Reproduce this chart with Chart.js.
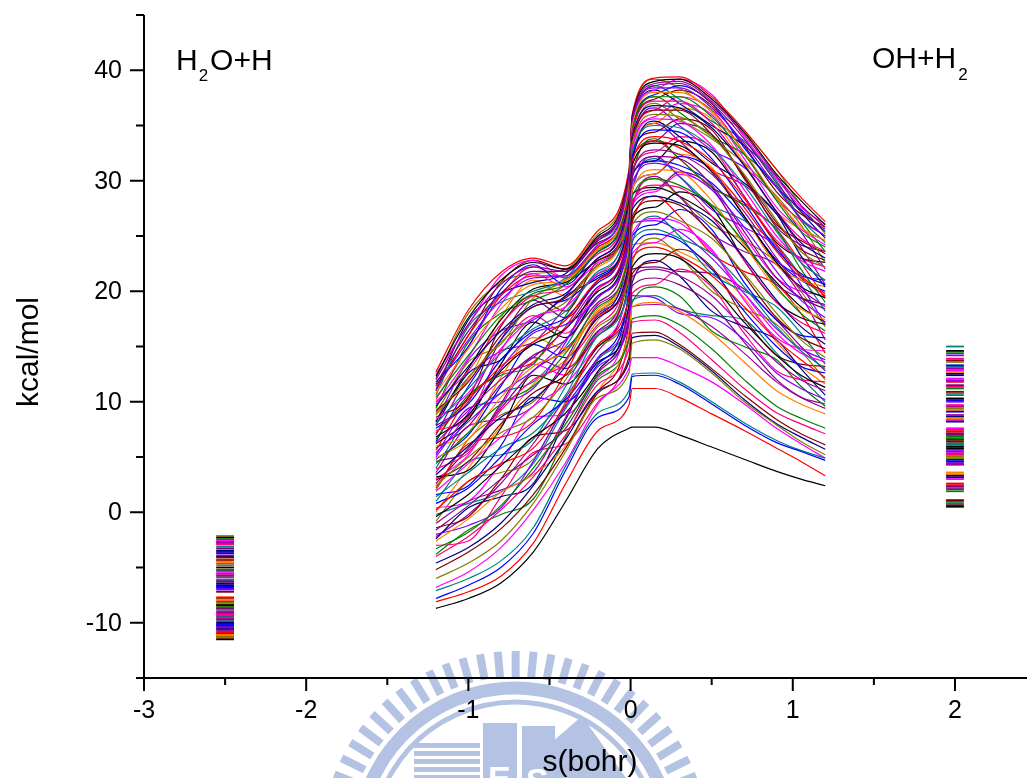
<!DOCTYPE html>
<html>
<head>
<meta charset="utf-8">
<script src="https://cdn.jsdelivr.net/npm/chart.js@4.4.0/dist/chart.umd.min.js"></script>
<style>
  html, body { margin: 0; padding: 0; background: #fff; overflow: hidden; }
  #wrap { width: 1027px; height: 778px; position: relative; }
</style>
</head>
<body>
<div id="wrap"><canvas id="pes"></canvas></div>
<script>
// reaction coordinate s (bohr) where each curve was sampled
const sPoints = [-1.2, -1.0, -0.8, -0.6, -0.4, -0.2, -0.01, 0.01, 0.15, 0.3, 0.5, 0.7, 0.9, 1.05, 1.2];

// energy curves (kcal/mol), roughly bottom one first
const curves = [
  [-8.7, -7.8, -6.4, -3.6, 1.0, 5.8, 7.6, 7.7, 7.7, 7.0, 5.9, 4.8, 3.7, 3.0, 2.4],
  [-8.1, -7.2, -5.8, -2.8, 2.6, 7.4, 9.7, 11.2, 11.2, 10.4, 8.9, 7.4, 5.8, 4.6, 3.3],
  [-7.8, -6.6, -5.0, -1.9, 3.8, 8.6, 10.4, 12.3, 12.4, 11.6, 9.8, 7.9, 6.3, 5.5, 4.7],
  [-7.1, -6.0, -4.4, -1.4, 4.2, 9.0, 11.0, 12.5, 12.6, 11.8, 10.0, 8.1, 6.5, 5.6, 4.9],
  [-6.8, -5.4, -3.2, 0.2, 4.5, 9.8, 13.0, 14.0, 14.0, 13.2, 11.8, 9.8, 7.6, 6.2, 4.9],
  [-6.0, -4.6, -2.6, 0.8, 5.5, 10.4, 12.6, 15.3, 15.6, 14.8, 12.6, 10.0, 7.9, 6.4, 5.2],
  [-5.2, -3.6, -1.5, 1.6, 5.8, 10.8, 14.0, 16.2, 16.3, 15.2, 13.0, 10.6, 8.4, 7.1, 6.1],
  [-4.6, -3.2, -1.0, 2.4, 6.6, 11.0, 13.6, 15.8, 16.0, 15.0, 12.8, 10.2, 8.0, 6.8, 5.7],
  [-4.0, -2.2, 0.2, 3.2, 7.0, 11.6, 14.8, 17.2, 17.4, 16.3, 13.8, 11.2, 9.0, 8.0, 7.1],
  [-3.3, -1.8, 0.6, 4.0, 8.0, 12.4, 15.6, 17.5, 17.8, 17.0, 14.8, 12.0, 9.6, 8.5, 7.6],
  [-2.6, -0.6, 1.8, 3.4, 6.0, 11.0, 16.4, 18.6, 19.0, 18.2, 16.2, 13.6, 11.0, 9.8, 8.9],
  [-2.0, -1.2, 0.4, 4.6, 9.6, 13.2, 17.0, 19.6, 19.4, 18.0, 17.6, 15.6, 12.6, 11.2, 10.2],
  [-1.6, 0.6, 3.0, 5.2, 7.6, 12.6, 17.6, 20.5, 21.2, 20.6, 18.8, 15.4, 12.0, 10.4, 9.4],
  [-1.0, 1.0, 2.0, 3.6, 8.6, 14.0, 18.2, 21.3, 22.0, 21.4, 19.6, 16.6, 13.6, 12.0, 11.0],
  [-0.4, 1.6, 4.2, 6.8, 9.0, 12.8, 18.8, 22.2, 23.4, 23.0, 20.6, 17.2, 14.2, 12.4, 11.3],
  [0.2, 2.8, 4.4, 5.8, 9.8, 15.2, 19.4, 23.0, 24.0, 23.2, 21.4, 18.6, 15.6, 13.8, 12.2],
  [0.8, 2.2, 5.0, 8.0, 10.2, 14.0, 19.8, 23.8, 25.2, 24.6, 22.0, 18.2, 15.0, 13.2, 12.6],
  [1.4, 3.6, 5.8, 7.2, 10.6, 16.0, 20.4, 24.6, 25.6, 24.8, 23.4, 20.4, 16.8, 14.6, 13.0],
  [1.9, 4.4, 6.8, 9.6, 11.6, 15.2, 20.8, 25.2, 26.6, 26.2, 23.6, 19.8, 16.2, 14.4, 13.6],
  [2.4, 5.0, 7.2, 8.6, 12.0, 16.8, 21.4, 26.0, 27.2, 26.4, 24.8, 21.6, 18.0, 15.6, 14.0],
  [2.9, 4.6, 8.0, 10.8, 12.4, 16.0, 21.8, 26.8, 28.2, 27.8, 25.2, 21.4, 17.6, 15.8, 14.8],
  [3.4, 6.0, 8.6, 10.2, 13.2, 17.6, 22.4, 27.4, 28.6, 28.0, 26.4, 23.0, 19.2, 16.8, 15.2],
  [3.9, 5.4, 9.2, 12.0, 13.4, 17.0, 22.8, 28.0, 29.6, 29.4, 26.8, 22.8, 19.0, 17.2, 16.2],
  [4.4, 7.2, 9.8, 11.4, 14.4, 18.6, 23.4, 28.6, 30.2, 29.6, 27.8, 24.4, 20.4, 18.0, 16.4],
  [4.9, 6.6, 10.4, 13.2, 14.6, 18.2, 23.8, 29.2, 31.0, 30.8, 28.2, 24.2, 20.2, 18.4, 17.4],
  [5.4, 8.2, 10.8, 12.8, 15.6, 19.6, 24.2, 29.8, 31.6, 31.0, 29.2, 25.8, 21.8, 19.2, 17.6],
  [5.8, 7.8, 11.6, 14.2, 15.6, 19.0, 24.6, 30.4, 32.2, 32.0, 29.6, 25.4, 21.2, 19.4, 18.4],
  [6.3, 9.2, 12.0, 14.0, 16.6, 20.4, 25.0, 30.8, 32.8, 32.4, 30.6, 27.2, 23.0, 20.2, 18.6],
  [6.8, 8.8, 12.8, 15.2, 16.6, 20.0, 25.4, 31.4, 33.4, 33.2, 30.8, 26.8, 22.6, 20.4, 19.4],
  [7.2, 10.2, 13.2, 15.4, 17.4, 21.0, 25.8, 31.8, 34.0, 33.6, 31.8, 28.4, 24.2, 21.4, 19.8],
  [7.6, 9.8, 13.8, 16.4, 17.6, 20.8, 26.2, 32.2, 34.6, 34.4, 32.0, 28.0, 23.8, 21.6, 20.6],
  [8.0, 11.2, 14.4, 16.6, 18.2, 21.8, 26.6, 32.6, 35.0, 34.8, 33.0, 29.6, 25.4, 22.6, 21.0],
  [8.4, 10.8, 14.8, 17.6, 18.6, 21.6, 27.0, 33.0, 35.6, 35.4, 33.2, 29.2, 25.0, 22.8, 21.8],
  [8.8, 12.2, 15.4, 17.6, 19.0, 22.4, 27.4, 33.4, 36.0, 35.8, 34.0, 30.6, 26.4, 23.6, 22.2],
  [9.2, 11.8, 16.0, 18.6, 19.4, 22.4, 27.8, 33.8, 36.4, 36.4, 34.2, 30.4, 26.2, 23.8, 22.8],
  [9.6, 13.2, 16.4, 18.8, 19.8, 23.0, 28.2, 34.0, 36.8, 36.6, 34.8, 31.4, 27.2, 24.4, 23.0],
  [10.0, 12.8, 17.0, 19.6, 20.2, 23.0, 28.6, 34.4, 37.2, 37.2, 35.2, 31.4, 27.2, 24.8, 23.6],
  [10.4, 14.2, 17.8, 19.8, 20.6, 23.6, 29.0, 34.6, 37.6, 37.6, 35.8, 32.4, 28.2, 25.4, 24.0],
  [10.8, 14.8, 18.4, 20.6, 21.0, 23.8, 29.4, 35.0, 38.0, 38.0, 36.2, 32.6, 28.4, 25.8, 24.6],
  [11.2, 15.6, 19.2, 21.2, 21.4, 24.2, 29.8, 35.2, 38.4, 38.4, 36.6, 33.4, 29.4, 26.6, 25.0],
  [11.6, 16.4, 19.8, 21.8, 21.8, 24.6, 30.2, 35.4, 38.6, 38.8, 37.0, 33.8, 29.8, 27.2, 25.6],
  [12.0, 17.0, 20.6, 22.2, 21.8, 24.8, 30.4, 35.6, 38.8, 39.0, 37.2, 34.2, 30.4, 27.8, 25.8],
  [12.3, 17.6, 21.0, 22.6, 22.0, 25.0, 30.6, 35.8, 39.0, 39.2, 37.4, 34.4, 30.6, 28.2, 26.0],
  [12.7, 18.3, 21.7, 23.0, 22.3, 25.5, 31.0, 36.0, 39.3, 39.4, 37.6, 34.6, 31.0, 28.5, 26.3],
  [11.8, 15.0, 20.2, 22.4, 20.6, 23.6, 28.8, 34.8, 37.8, 38.6, 37.0, 33.0, 29.4, 27.4, 25.4],
  [10.6, 16.8, 19.0, 20.0, 21.2, 24.6, 29.2, 34.2, 38.6, 37.4, 35.4, 33.6, 30.0, 26.6, 24.4],
  [9.8, 14.0, 18.8, 21.6, 20.4, 22.6, 27.6, 33.2, 35.8, 37.0, 36.0, 32.0, 27.6, 25.6, 24.2],
  [9.0, 13.6, 15.2, 19.4, 21.0, 23.8, 28.0, 33.6, 37.0, 35.6, 33.8, 31.6, 28.6, 26.0, 22.6],
  [8.6, 10.4, 16.8, 19.6, 18.2, 22.8, 27.2, 32.8, 34.4, 35.6, 34.6, 30.2, 26.0, 24.6, 23.4],
  [7.9, 12.6, 13.8, 17.0, 19.6, 21.2, 26.4, 31.6, 35.4, 34.0, 31.6, 29.8, 27.0, 23.2, 20.4],
  [7.4, 8.6, 14.6, 17.8, 16.2, 20.2, 25.6, 31.0, 32.6, 34.0, 33.0, 28.6, 24.6, 23.0, 22.2],
  [6.6, 10.6, 12.4, 13.4, 17.8, 21.6, 25.2, 30.2, 33.8, 32.0, 29.4, 27.8, 25.6, 22.0, 19.0],
  [6.0, 7.2, 12.2, 15.8, 14.8, 18.4, 24.0, 29.4, 30.6, 32.4, 31.2, 26.8, 22.4, 21.0, 20.4],
  [5.2, 9.4, 10.0, 11.2, 15.4, 20.4, 24.4, 29.0, 32.2, 30.4, 27.4, 25.8, 24.0, 20.6, 17.0],
  [4.6, 5.6, 9.8, 14.0, 13.0, 16.4, 22.6, 28.2, 29.2, 30.8, 29.4, 24.6, 20.6, 19.4, 18.8],
  [3.6, 7.8, 8.4, 9.6, 13.8, 18.8, 23.0, 27.6, 30.4, 28.6, 25.2, 23.6, 22.4, 19.6, 15.6],
  [3.2, 3.8, 7.6, 12.4, 11.6, 15.0, 21.2, 26.6, 27.6, 29.0, 27.6, 22.8, 19.0, 17.6, 17.0],
  [2.2, 6.2, 6.8, 8.2, 12.6, 17.8, 21.6, 26.2, 28.6, 26.8, 23.4, 21.8, 20.6, 18.0, 14.4],
  [1.6, 2.4, 6.0, 10.4, 10.0, 13.4, 19.8, 25.0, 26.0, 27.4, 25.6, 20.8, 17.4, 16.0, 15.8],
  [1.0, 4.6, 5.2, 6.6, 11.4, 16.4, 20.0, 24.4, 26.8, 25.0, 21.6, 20.0, 18.6, 16.2, 13.4],
  [0.4, 1.0, 4.4, 8.6, 8.8, 12.2, 18.4, 23.4, 24.4, 25.6, 23.8, 19.2, 15.8, 14.8, 14.6],
  [-0.8, 2.8, 3.6, 4.8, 10.0, 15.0, 18.6, 22.6, 24.8, 23.2, 20.0, 18.4, 17.0, 14.6, 12.0],
  [-1.4, -0.4, 3.0, 6.8, 7.4, 11.0, 17.0, 21.6, 22.6, 23.8, 22.2, 17.6, 14.2, 13.4, 13.2],
  [-2.4, 0.4, 1.4, 2.6, 8.4, 13.6, 17.2, 20.8, 22.8, 21.4, 18.2, 16.8, 15.6, 13.0, 10.6],
  [-3.0, -2.6, 1.4, 5.4, 6.2, 10.0, 15.8, 19.8, 20.6, 22.0, 20.4, 16.2, 12.8, 12.0, 11.8],
  [-3.8, -1.6, -0.2, 1.2, 6.8, 12.0, 15.8, 19.0, 20.4, 19.6, 16.4, 15.0, 13.8, 11.4, 9.6],
  [0.0, 4.0, 7.8, 11.6, 13.8, 17.4, 22.0, 24.2, 24.4, 23.6, 22.0, 19.4, 15.4, 13.2, 11.6],
  [5.0, 9.0, 13.0, 16.2, 17.0, 19.4, 24.0, 26.2, 26.4, 25.4, 23.0, 19.8, 16.6, 14.8, 13.8],
  [2.6, 5.8, 9.4, 12.8, 14.8, 18.0, 20.6, 22.0, 22.2, 21.8, 21.6, 20.2, 17.4, 15.0, 12.8],
  [-2.2, -0.2, 2.6, 6.2, 10.4, 14.6, 17.8, 18.6, 18.8, 18.4, 16.8, 14.4, 11.8, 10.4, 9.8],
  [8.2, 13.0, 17.4, 20.2, 20.8, 22.8, 26.0, 28.8, 29.4, 28.6, 26.8, 24.0, 20.8, 18.6, 17.2],
  [11.0, 16.0, 19.6, 21.4, 21.4, 24.0, 28.4, 32.0, 33.6, 33.0, 31.0, 27.6, 23.6, 21.2, 19.6],
  [6.4, 11.4, 15.6, 18.6, 19.2, 21.4, 25.8, 30.6, 31.8, 31.4, 29.8, 26.6, 22.8, 21.0, 20.0],
  [-0.2, 0.8, 1.8, 4.4, 9.4, 13.8, 17.4, 19.2, 19.6, 18.4, 17.8, 17.4, 14.4, 12.2, 10.0],
  [12.5, 17.0, 21.4, 22.8, 21.2, 24.2, 29.6, 35.4, 38.2, 39.2, 37.8, 34.0, 30.2, 27.6, 26.1],
  [12.1, 18.0, 20.8, 21.6, 22.0, 25.2, 30.8, 35.8, 39.2, 38.4, 36.4, 34.4, 31.0, 27.8, 25.2],
  [11.4, 16.0, 20.8, 22.8, 22.0, 24.4, 29.0, 34.6, 37.4, 38.2, 36.8, 33.2, 29.0, 27.0, 25.8],
  [11.0, 17.4, 19.8, 20.8, 21.6, 24.8, 29.6, 34.8, 38.2, 37.0, 35.0, 33.2, 30.4, 27.2, 24.8],
  [10.2, 15.0, 19.6, 22.2, 21.2, 23.4, 28.4, 33.8, 36.4, 37.6, 36.4, 32.6, 28.4, 26.4, 25.0],
  [9.4, 15.4, 18.0, 19.2, 20.6, 24.0, 28.8, 34.2, 37.6, 36.2, 34.0, 32.4, 29.6, 26.4, 23.6],
  [9.0, 12.0, 17.6, 21.0, 19.6, 22.2, 27.4, 33.0, 35.2, 36.6, 35.6, 31.6, 27.2, 25.6, 24.6],
  [8.2, 13.8, 16.4, 17.4, 19.6, 23.0, 27.8, 33.2, 36.6, 35.0, 32.8, 31.2, 28.4, 25.4, 22.0],
  [7.8, 10.0, 15.6, 19.2, 17.6, 21.0, 26.4, 32.0, 33.6, 35.2, 34.2, 30.4, 25.8, 24.2, 23.6],
  [7.0, 12.2, 14.6, 15.4, 18.6, 22.4, 26.8, 32.0, 35.2, 33.6, 31.0, 29.6, 27.0, 24.0, 20.6],
  [6.2, 8.4, 13.4, 17.2, 15.8, 19.6, 25.0, 30.6, 31.8, 33.6, 32.6, 28.6, 24.4, 23.0, 22.6],
  [5.6, 10.4, 12.6, 13.6, 16.8, 21.0, 25.6, 30.6, 33.6, 32.0, 29.4, 28.0, 25.6, 22.6, 19.4],
  [4.8, 7.0, 11.4, 15.2, 14.0, 17.8, 23.6, 29.4, 30.6, 32.2, 31.0, 26.8, 22.8, 21.4, 21.0],
  [4.0, 8.6, 10.8, 11.8, 15.0, 19.6, 24.2, 29.2, 32.0, 30.4, 27.8, 26.4, 24.2, 21.4, 18.2],
  [3.0, 5.2, 9.6, 13.4, 12.4, 16.2, 22.0, 27.8, 29.0, 30.6, 29.2, 25.0, 21.2, 20.0, 19.6],
  [2.0, 6.6, 8.8, 10.0, 13.6, 18.2, 22.6, 27.6, 30.2, 28.6, 26.0, 24.6, 22.6, 20.0, 16.8]
];

// asymptotic levels drawn as short bars at s = -2.5 (H2O+H) and s = 2 (OH+H2)
const reactantS = -2.5;
const productS = 2;
const reactantLevels = [-11.5, -11.3, -11.1, -10.9, -10.6, -10.4, -10.2, -10.0, -9.7, -9.5, -9.3, -9.1,
  -8.8, -8.6, -8.4, -8.2, -7.9, -7.7, -7.2, -7.0, -6.8, -6.6, -6.3, -6.1, -5.9, -5.7, -5.4, -5.2,
  -5.0, -4.8, -4.5, -4.3, -4.1, -3.9, -3.7, -3.5, -3.3, -3.1, -2.9, -2.7, -2.6, -2.45, -2.3, -2.15,
  -11.4, -11.2, -11.0, -10.75, -10.5, -10.3, -10.1, -9.85, -9.6, -9.4, -9.2, -8.95, -8.7, -8.5,
  -8.3, -8.05, -7.8, -6.9, -6.7, -6.45, -6.2, -5.8, -5.55, -5.3, -4.65, -4.4, -4.0, -3.6, -3.2, -2.8];
const productLevels = [0.5, 0.8, 1.1, 1.9, 2.3, 2.6, 3.0, 3.3, 3.6, 4.3, 4.6, 4.9, 5.2, 5.5, 5.8,
  6.1, 6.4, 6.7, 7.0, 7.3, 7.6, 8.2, 8.5, 8.8, 9.1, 9.4, 9.7, 10.0, 10.3, 10.6, 10.9, 11.2, 11.5,
  11.8, 12.1, 12.4, 12.7, 13.0, 13.3, 13.6, 13.9, 14.2, 14.6, 15.0,
  0.65, 0.95, 2.1, 2.45, 12.85, 3.15, 3.45, 4.45, 4.75, 5.05, 5.35, 5.65, 5.95, 6.25, 6.55,
  6.85, 7.15, 7.45, 8.35, 8.65, 9.25, 9.55, 10.15, 10.75, 11.35, 11.95, 12.55, 13.15, 13.75, 14.4];

const xTicks = [-3, -2, -1, 0, 1, 2];
const xMinor = [-2.5, -1.5, -0.5, 0.5, 1.5];
const yTicks = [-10, 0, 10, 20, 30, 40];
const yMinor = [-15, -5, 5, 15, 25, 35, 45];

const palette = ['#000000', '#ff0000', '#0000ff', '#008080', '#ff00ff', '#808000', '#800000',
  '#000080', '#ff0080', '#008000', '#ff8000', '#8000ff', '#800080', '#a000a0'];
const FONT = 'Arial, "Liberation Sans", sans-serif';
const barHalf = 0.055;

const datasets = [];
curves.forEach((ys, i) => {
  datasets.push({
    data: sPoints.map((s, j) => ({ x: s, y: ys[j] })),
    borderColor: palette[i % palette.length],
    borderWidth: 1.2,
    pointRadius: 0,
    cubicInterpolationMode: 'monotone',
    fill: false
  });
});
reactantLevels.forEach((v, i) => {
  datasets.push({
    data: [{ x: reactantS - barHalf, y: v }, { x: reactantS + barHalf, y: v }],
    borderColor: palette[(i * 5) % palette.length],
    borderWidth: 1.8, pointRadius: 0, fill: false
  });
});
productLevels.forEach((v, i) => {
  datasets.push({
    data: [{ x: productS - barHalf, y: v }, { x: productS + barHalf, y: v }],
    borderColor: palette[(i * 3) % palette.length],
    borderWidth: 1.8, pointRadius: 0, fill: false
  });
});

// faint university watermark behind the bottom of the plot
function drawWatermark(ctx) {
  const cx = 515, cy = 845;
  const blue = '#b4c3e3';
  ctx.save();
  ctx.fillStyle = blue;
  ctx.strokeStyle = blue;
  for (let a = 196; a <= 346; a += 5.3) {
    ctx.save();
    ctx.translate(cx, cy);
    ctx.rotate(a * Math.PI / 180);
    ctx.fillRect(168, -4, 26, 8);
    ctx.restore();
  }
  ctx.lineWidth = 13;
  ctx.beginPath(); ctx.arc(cx, cy, 157, Math.PI * 1.03, Math.PI * 1.97); ctx.stroke();
  ctx.lineWidth = 5;
  ctx.beginPath(); ctx.arc(cx, cy, 143, Math.PI * 1.05, Math.PI * 1.95); ctx.stroke();
  for (let k = 0; k < 5; k++) ctx.fillRect(414, 743 + k * 8, 66, 5);
  ctx.fillRect(483, 723, 34, 55);
  ctx.fillRect(522, 726, 33, 52);
  ctx.beginPath();
  ctx.moveTo(552, 742); ctx.lineTo(582, 716); ctx.lineTo(626, 778); ctx.lineTo(552, 778);
  ctx.closePath(); ctx.fill();
  ctx.fillStyle = '#ffffff';
  ctx.font = 'bold 34px ' + FONT;
  ctx.fillText('E', 488, 790);
  ctx.fillText('S', 526, 792);
  ctx.restore();
}

const framePlugin = {
  id: 'frame',
  beforeDraw(chart) {
    drawWatermark(chart.ctx);
  },
  afterDraw(chart) {
    const { ctx, chartArea: a, scales: { x, y } } = chart;
    ctx.save();
    ctx.strokeStyle = '#000';
    ctx.lineWidth = 2;
    ctx.beginPath();
    ctx.moveTo(a.left, a.top);
    ctx.lineTo(a.left, a.bottom);
    ctx.lineTo(a.right, a.bottom);
    xTicks.forEach(v => { const p = x.getPixelForValue(v); ctx.moveTo(p, a.bottom); ctx.lineTo(p, a.bottom + 13); });
    xMinor.forEach(v => { const p = x.getPixelForValue(v); ctx.moveTo(p, a.bottom); ctx.lineTo(p, a.bottom + 7); });
    yTicks.forEach(v => { const p = y.getPixelForValue(v); ctx.moveTo(a.left, p); ctx.lineTo(a.left - 14, p); });
    yMinor.forEach(v => { const p = y.getPixelForValue(v); ctx.moveTo(a.left, p); ctx.lineTo(a.left - 8, p); });
    ctx.stroke();

    ctx.fillStyle = '#000';
    // y tick labels
    ctx.font = '25px ' + FONT;
    ctx.textAlign = 'right';
    ctx.textBaseline = 'middle';
    yTicks.forEach(v => { ctx.fillText(String(v), a.left - 22, y.getPixelForValue(v) + 1); });

    ctx.textBaseline = 'alphabetic';
    ctx.textAlign = 'center';
    ctx.font = '30px ' + FONT;
    ctx.fillText('s(bohr)', 590, 771);
    ctx.save();
    ctx.translate(38, 352);
    ctx.rotate(-Math.PI / 2);
    ctx.fillText('kcal/mol', 0, 0);
    ctx.restore();

    // H2O+H
    ctx.textAlign = 'left';
    let px = 176;
    ctx.font = '30px ' + FONT;
    ctx.fillText('H', px, 70);
    px += ctx.measureText('H').width;
    ctx.font = '17px ' + FONT;
    ctx.fillText('2', px + 1, 81);
    px += ctx.measureText('2').width + 3;
    ctx.font = '30px ' + FONT;
    ctx.fillText('O+H', px, 70);

    // OH+H2
    px = 872;
    ctx.fillText('OH+H', px, 68);
    px += ctx.measureText('OH+H').width;
    ctx.font = '17px ' + FONT;
    ctx.fillText('2', px + 2, 80);
    ctx.restore();
  }
};

new Chart(document.getElementById('pes'), {
  type: 'line',
  data: { datasets },
  plugins: [framePlugin],
  options: {
    responsive: true,
    maintainAspectRatio: false,
    animation: false,
    events: [],
    layout: { padding: { top: 15, right: 0, left: 0, bottom: 0 } },
    plugins: { legend: { display: false }, tooltip: { enabled: false } },
    scales: {
      x: {
        type: 'linear',
        min: -3,
        max: 2.444,
        grid: { display: false, drawTicks: false },
        border: { display: false },
        afterBuildTicks: s => { s.ticks = xTicks.map(v => ({ value: v })); },
        afterFit: s => { s.height = 100; },
        ticks: { color: '#000', font: { family: FONT, size: 25 }, padding: 18, maxRotation: 0, autoSkip: false }
      },
      y: {
        type: 'linear',
        min: -15,
        max: 45,
        grid: { display: false, drawTicks: false },
        border: { display: false },
        afterBuildTicks: s => { s.ticks = yTicks.map(v => ({ value: v })); },
        afterFit: s => { s.width = 144; },
        ticks: { display: false }
      }
    }
  }
});
</script>
</body>
</html>
